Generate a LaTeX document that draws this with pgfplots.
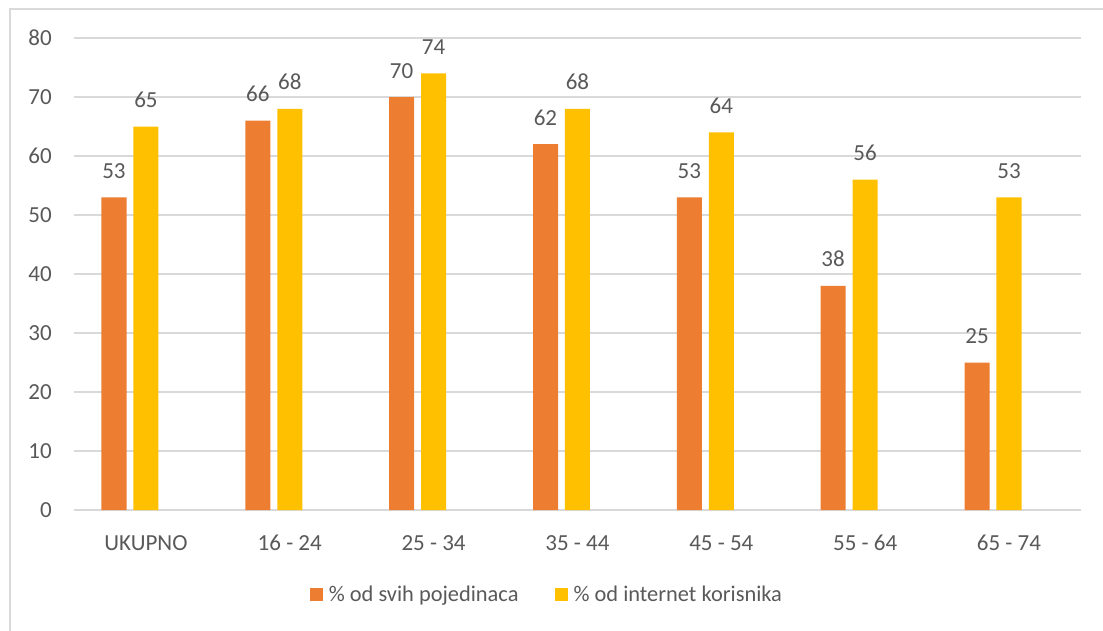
\documentclass[border=0pt]{standalone}
\usepackage{fontspec}
\setmainfont{Carlito}
\usepackage{pgfplots}
\pgfplotsset{compat=1.18}
\definecolor{cor}{HTML}{ED7D31}
\definecolor{cye}{HTML}{FFC000}
\definecolor{ctx}{HTML}{595959}
\definecolor{cgr}{HTML}{D9D9D9}
\newcommand{\cf}{\fontsize{23}{27}\selectfont}
\newcommand{\lf}{\fontsize{22.4}{27}\selectfont}
\begin{document}
\begin{tikzpicture}[x=1pt,y=1pt]
\draw[cgr, line width=1.5pt] (10,621) rectangle (1200,-50);
\begin{axis}[
  at={(74pt,120pt)}, anchor=south west,
  width=1007pt, height=472pt, scale only axis,
  xmin=-0.5, xmax=6.5, ymin=0, ymax=80,
  ytick={0,10,...,80},
  xtick={0,...,6},
  xticklabels={UKUPNO,16 - 24,25 - 34,35 - 44,45 - 54,55 - 64,65 - 74},
  axis line style={draw=none},
  tick style={draw=none},
  major tick length=0pt,
  ymajorgrids, grid style={cgr, line width=1.3pt},
  /pgf/number format/assume math mode=true,
  xticklabel style={font=\cf, text=ctx, anchor=base, inner sep=0pt, yshift=-40pt},
  yticklabel style={font=\cf, text=ctx, anchor=east, inner sep=0pt, xshift=-22pt},
  clip=false,
  legend columns=2,
  legend style={at={(axis description cs:0.234,-0.180)}, anchor=west,
    draw=none, fill=none, inner sep=0pt, font=\lf, text=ctx,
    nodes={inner sep=0pt}, column sep=6pt,
    /tikz/every even column/.append style={column sep=36pt}},
]
\addplot[ybar, fill=cor, draw=none, bar width=0.174, bar shift=-0.222,
  legend image code/.code={\fill[cor] (0pt,-6.5pt) rectangle (13pt,6.5pt);},
  nodes near coords,
  every node near coord/.append style={font=\cf, text=ctx, anchor=base, inner sep=0pt, yshift=19pt, xshift=-32pt}]
  coordinates {(0,53) (1,66) (2,70) (3,62) (4,53) (5,38) (6,25)};
\addlegendentry{\% od svih pojedinaca}
\addplot[ybar, fill=cye, draw=none, bar width=0.174, bar shift=0,
  legend image code/.code={\fill[cye] (0pt,-6.5pt) rectangle (13pt,6.5pt);},
  nodes near coords,
  every node near coord/.append style={font=\cf, text=ctx, anchor=base, inner sep=0pt, yshift=19pt}]
  coordinates {(0,65) (1,68) (2,74) (3,68) (4,64) (5,56) (6,53)};
\addlegendentry{\% od internet korisnika}
\end{axis}
\pgfresetboundingbox
\useasboundingbox (0,0) rectangle (1103,630);
\end{tikzpicture}
\end{document}
